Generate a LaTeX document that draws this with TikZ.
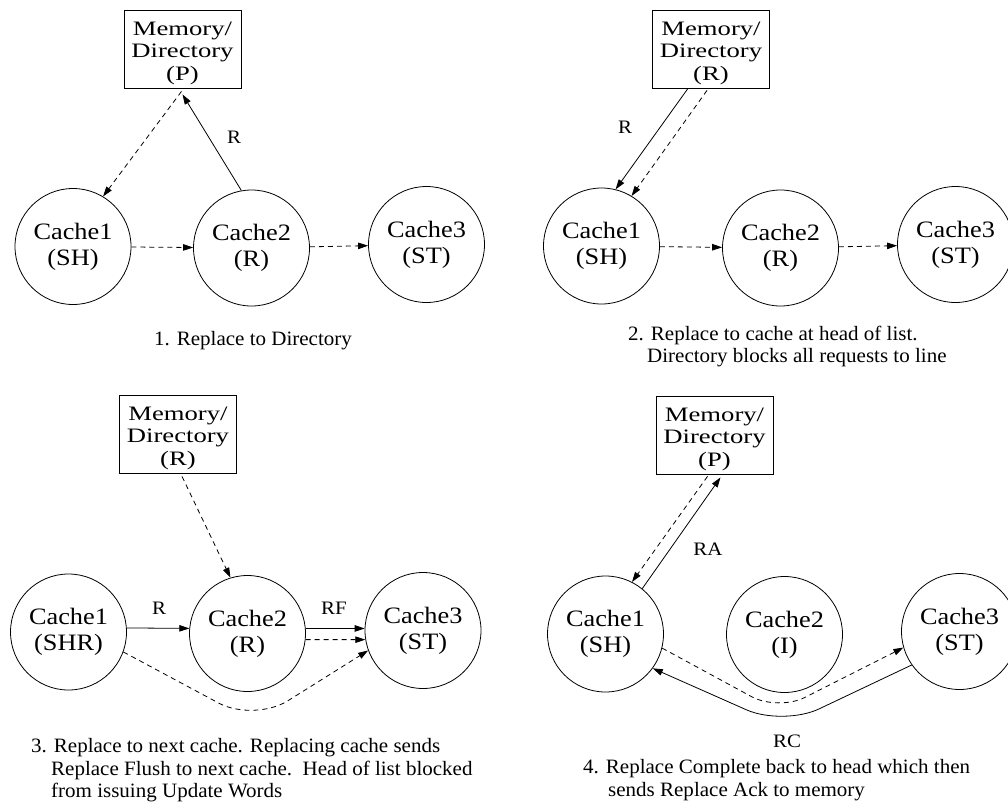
\documentclass[tikz,border=0pt]{standalone}
\usepackage{fontspec}
\setmainfont{Liberation Serif}
\newfontfamily\boxfont{Liberation Serif}[FakeStretch=1.3]
\newfontfamily\cachefont{Liberation Serif}[FakeStretch=1.12]
\newfontfamily\labfont{Liberation Serif}[FakeStretch=1.1]
\newfontfamily\capfont{Liberation Serif}[FakeStretch=1.03]
\usetikzlibrary{arrows.meta,calc}
\begin{document}
\begin{tikzpicture}[x=1pt,y=-1pt,
  cache/.style={draw, circle, minimum size=116pt, inner sep=0pt, align=center,
    font=\cachefont\fontsize{23.5}{26}\selectfont, line width=0.8pt},
  mem/.style={draw, rectangle, minimum width=117pt, minimum height=78pt, inner sep=0pt,
    line width=0.8pt},
  memtext/.style={inner sep=0pt, align=center,
    font=\boxfont\fontsize{20.5}{22.5}\selectfont},
  msg/.style={line width=0.8pt, -{Triangle[length=10pt,width=6.5pt]}},
  dmsg/.style={msg, dash pattern=on 5pt off 4pt},
  lab/.style={font=\labfont\fontsize{19}{21}\selectfont, inner sep=0pt},
  caption/.style={font=\capfont\fontsize{20.4}{22.5}\selectfont, inner sep=0pt,
    align=left, anchor=base west}
]
\useasboundingbox (0,0) rectangle (1008,803);

% ---- 1. Replace to directory
\node[mem] (m1) at (182.5,49) {};
\node[memtext] (m1t) at ($(m1)+(0,4)$) {Memory/\\Directory\\(P)};
\node[cache] (a1) at (73,246.5) {Cache1\\(SH)};
\node[cache] (a2) at (251.5,248) {Cache2\\(R)};
\node[cache] (a3) at (426.5,244.5) {Cache3\\(ST)};
\draw[dmsg] ($(m1.south)+(-1,3)$) -- (a1.59);
\draw[msg] (a2.100) -- ($(m1.south)+(0,6)$);
\node[lab] (l1) at (234,137) {R};
\draw[dmsg] (a1) -- (a2);
\draw[dmsg] (a2) -- (a3);
\node[caption, anchor=base] (t1) at (253,345.7) {1. Replace to Directory};

% ---- 2. Replace to head of list
\node[mem] (m2) at (711,49) {};
\node[memtext] (m2t) at ($(m2)+(0,4)$) {Memory/\\Directory\\(R)};
\node[cache] (b1) at (601.5,246) {Cache1\\(SH)};
\node[cache] (b2) at (780.5,248) {Cache2\\(R)};
\node[cache] (b3) at (955.5,244.5) {Cache3\\(ST)};
\draw[msg] ($(m2.south)+(-23,0)$) -- (b1.76);
\draw[dmsg] ($(m2.south)+(-4,2)$) -- (b1.59);
\node[lab] (l2) at (625,127) {R};
\draw[dmsg] (b1) -- (b2);
\draw[dmsg] (b2) -- (b3);
\node[caption] (t2) at (628,362.7) {2. Replace to cache at head of list.\\
  \hspace*{19pt}Directory blocks all requests to line};

% ---- 3. Replace to next cache
\node[mem] (m3) at (178,434) {};
\node[memtext] (m3t) at ($(m3)+(0,4)$) {Memory/\\Directory\\(R)};
\node[cache] (c1) at (68.5,632) {Cache1\\(SHR)};
\node[cache] (c2) at (247.5,633.5) {Cache2\\(R)};
\node[cache] (c3) at (423,630.5) {Cache3\\(ST)};
\draw[dmsg] ($(m3.south)+(4,3)$) -- (c2.107);
\draw[msg] (c1.4) -- (c2.175);
\node[lab] (l3) at (159,608) {R};
\draw[msg] (c2.5) -- (c3.178);
\node[lab] (l4) at (334,608) {RF};
\draw[dmsg] (c2.354) -- (c3.189);
\draw[dmsg, rounded corners=40pt] (c1.340) -- (254,722) -- (c3.200);
\node[caption] (t3) at (31,797.5) {3. Replace to next cache. Replacing cache sends\\
  \hspace*{20pt}Replace Flush to next cache.\ \ Head of list blocked\\
  \hspace*{20pt}from issuing Update Words};

% ---- 4. Replace complete
\node[mem] (m4) at (714.5,435) {};
\node[memtext] (m4t) at ($(m4)+(0,4)$) {Memory/\\Directory\\(P)};
\node[cache] (d1) at (605.5,634) {Cache1\\(SH)};
\node[cache] (d2) at (784.5,634.5) {Cache2\\(I)};
\node[cache] (d3) at (959.5,631.5) {Cache3\\(ST)};
\draw[dmsg] ($(m4.south)+(-7,2)$) -- (d1.63);
\draw[msg] (d1.51) -- ($(m4.south)+(6,3)$);
\node[lab] (l5) at (708,549) {RA};
\draw[dmsg, rounded corners=30pt] (d1.346) -- (778,711) -- (d3.196);
\draw[msg, rounded corners=40pt] (d3.215) -- (783,726) -- (d1.324);
\node[lab] (l6) at (787,741) {RC};
\node[caption] (t4) at (583,796) {4. Replace Complete back to head which then\\
  \hspace*{25pt}sends Replace Ack to memory};
\end{tikzpicture}
\end{document}
